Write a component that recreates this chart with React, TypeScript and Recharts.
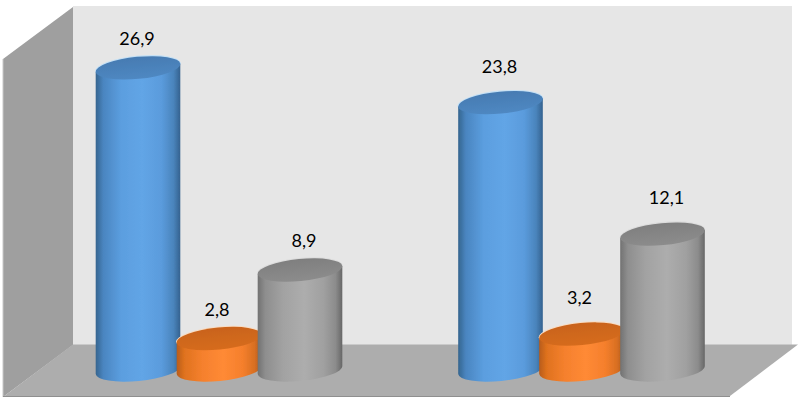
import React from "react";
import { BarChart, Bar, XAxis, YAxis, LabelList, Customized } from "recharts";

const categories = ["Grupo 1", "Grupo 2"];
const blueValues = [26.9, 23.8];
const orangeValues = [2.8, 3.2];
const grayValues = [8.9, 12.1];
const data = categories.map((name, i) => ({
  name,
  blue: blueValues[i],
  orange: orangeValues[i],
  gray: grayValues[i],
}));

const blueStops = ["#35658f", "#4a85c0", "#5b9edf", "#62a5e6", "#5a9bdc", "#4a84bc", "#34628f"];
const orangeStops = ["#b85c1c", "#df721f", "#f5802d", "#ff8a35", "#f57f2c", "#d86f22", "#b0581a"];
const grayStops = ["#727272", "#8e8e8e", "#a2a2a2", "#adadad", "#a0a0a0", "#8c8c8c", "#676767"];
const stopOffsets = ["0%", "9%", "30%", "55%", "78%", "92%", "100%"];

const TILT = -5.5;

type Pal = { id: string; stops: string[]; capTop: string; capBottom: string; halo: string };

const paletteBlue: Pal = { id: "cylBlue", stops: blueStops, capTop: "#467bb2", capBottom: "#4f88c2", halo: "#c4e0f5" };
const paletteOrange: Pal = { id: "cylOrange", stops: orangeStops, capTop: "#c9631a", capBottom: "#d66c1f", halo: "#f8dcc4" };
const paletteGray: Pal = { id: "cylGray", stops: grayStops, capTop: "#7f7f7f", capBottom: "#8c8c8c", halo: "#dcdcdc" };

function Cylinder(props: any) {
  const { x, y, width, height, pal } = props as { x: number; y: number; width: number; height: number; pal: Pal };
  const rx = width / 2;
  const ry = 11;
  const cx = x + rx;
  const bottom = y + height;
  const t = (TILT * Math.PI) / 180;
  const dx = rx * Math.cos(t);
  const dy = rx * Math.sin(t);
  const path = `M ${cx - dx} ${y - dy} L ${cx - dx} ${bottom - dy} A ${rx} ${ry} ${TILT} 0 0 ${cx + dx} ${bottom + dy} L ${cx + dx} ${y + dy} Z`;
  return (
    <g filter="url(#soft)">
      <ellipse cx={cx} cy={y - 0.6} rx={rx + 0.6} ry={ry + 0.5} fill={pal.halo} transform={`rotate(${TILT} ${cx} ${y})`} />
      <path d={path} fill={`url(#${pal.id})`} />
      <ellipse cx={cx} cy={y} rx={rx} ry={ry} fill={`url(#${pal.id}Cap)`} transform={`rotate(${TILT} ${cx} ${y})`} />
    </g>
  );
}

function Walls() {
  const grad = (p: Pal) => (
    <React.Fragment key={p.id}>
      <linearGradient id={p.id} x1="0" y1="0" x2="1" y2="0">
        {p.stops.map((c, i) => (
          <stop key={i} offset={stopOffsets[i]} stopColor={c} />
        ))}
      </linearGradient>
      <linearGradient id={`${p.id}Cap`} x1="0" y1="0" x2="0" y2="1">
        <stop offset="0%" stopColor={p.capTop} />
        <stop offset="100%" stopColor={p.capBottom} />
      </linearGradient>
    </React.Fragment>
  );
  return (
    <g>
      <defs>
        {grad(paletteBlue)}
        {grad(paletteOrange)}
        {grad(paletteGray)}
        <filter id="soft" x="-5%" y="-5%" width="110%" height="110%">
          <feGaussianBlur stdDeviation="0.5" />
        </filter>
      </defs>
      <g filter="url(#soft)">
        <polygon points="73,6 792,6 792,345 73,345" fill="#e6e6e6" />
        <polygon points="3,59 73,7 73,345 3,397" fill="#9f9f9f" />
        <polygon points="73,344.5 798,344.5 730,396 3,397" fill="#adadad" />
        <line x1={3} y1={59} x2={3} y2={397} stroke="#c8c8c8" strokeWidth={1} />
        <line x1={3} y1={396.5} x2={730} y2={396.5} stroke="#8f8f8f" strokeWidth={1} />
      </g>
    </g>
  );
}

const groupLift = [30, 37];

const makeLabel = (shift: number) => (props: any) => {
  const { x, y, width, value, index } = props;
  return (
    <text
      x={x + width / 2 + shift}
      y={y - groupLift[index]}
      textAnchor="middle"
      dominantBaseline="central"
      fontFamily="Lato, 'Open Sans', sans-serif"
      fontSize={18}
      fill="#000000"
    >
      {String(value).replace(".", ",")}
    </text>
  );
};

export default function App() {
  return (
    <div style={{ position: "absolute", left: 0, top: 0, width: 802, height: 400, background: "#ffffff" }}>
      <BarChart
        width={802}
        height={400}
        data={data}
        margin={{ top: 33, right: 39.5, bottom: 30, left: 37.5 }}
        barSize={85}
        barGap={-4}
      >
        <Customized component={Walls} />
        <XAxis dataKey="name" hide />
        <YAxis hide domain={[0, 30]} />
        <Bar dataKey="blue" isAnimationActive={false} shape={(p: any) => <Cylinder {...p} pal={paletteBlue} />}>
          <LabelList dataKey="blue" content={makeLabel(-1)} />
        </Bar>
        <Bar dataKey="orange" isAnimationActive={false} shape={(p: any) => <Cylinder {...p} pal={paletteOrange} />}>
          <LabelList dataKey="orange" content={makeLabel(-2)} />
        </Bar>
        <Bar dataKey="gray" isAnimationActive={false} shape={(p: any) => <Cylinder {...p} pal={paletteGray} />}>
          <LabelList dataKey="gray" content={makeLabel(4)} />
        </Bar>
      </BarChart>
    </div>
  );
}
